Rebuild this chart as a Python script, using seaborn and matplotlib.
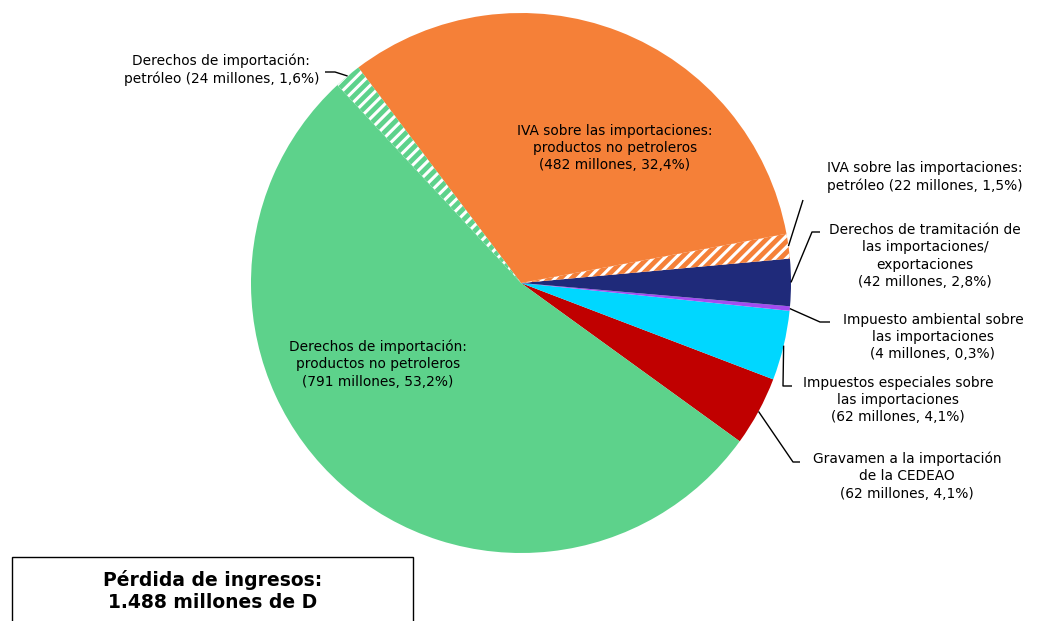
import numpy as np
import matplotlib
matplotlib.use("Agg")
import matplotlib.pyplot as plt
from matplotlib.patches import Rectangle
import seaborn as sns

# data (counter-clockwise from the red slice)
labels = [
    "Gravamen a la importación\nde la CEDEAO\n(62 millones, 4,1%)",
    "Impuestos especiales sobre\nlas importaciones\n(62 millones, 4,1%)",
    "Impuesto ambiental sobre\nlas importaciones\n(4 millones, 0,3%)",
    "Derechos de tramitación de\nlas importaciones/\nexportaciones\n(42 millones, 2,8%)",
    "IVA sobre las importaciones:\npetróleo (22 millones, 1,5%)",
    "IVA sobre las importaciones:\nproductos no petroleros\n(482 millones, 32,4%)",
    "Derechos de importación:\npetróleo (24 millones, 1,6%)",
    "Derechos de importación:\nproductos no petroleros\n(791 millones, 53,2%)",
]
values = [62, 62, 4, 42, 22, 482, 24, 791]
colors = ["#C00000", "#00D7FF", "#A24CF0", "#1F2A7A",
          "#F58038", "#F58038", "#5DD28B", "#5DD28B"]
hatches = [None, None, None, None, "///", None, "///", None]
total_text = "Pérdida de ingresos:\n1.488 millones de D"

W, H = 1040, 621
sns.set_theme(style="white")
plt.rcParams["font.family"] = ["DejaVu Sans"]
plt.rcParams["hatch.linewidth"] = 2.2

fig = plt.figure(figsize=(W / 100, H / 100), dpi=100)
ax = fig.add_axes([0, 0, 1, 1])

def py(y):
    return H - y

cx, cy, r = 521, py(283), 270
start = -35.9
wedges, _ = ax.pie(values, colors=colors, startangle=start, counterclock=True,
                   center=(cx, cy), radius=r, frame=True,
                   wedgeprops=dict(linewidth=0))
ax.set_xlim(0, W)
ax.set_ylim(0, H)
ax.axis("off")
for w, h, c in zip(wedges, hatches, colors):
    if h:
        w.set_hatch(h)
        w.set_facecolor(c)
        w.set_edgecolor("white")
        w.set_linewidth(0)

fs = 9.9
ls = 1.3

def edge_point(i):
    w = wedges[i]
    a = np.deg2rad((w.theta1 + w.theta2) / 2)
    return cx + r * np.cos(a), cy + r * np.sin(a)

# inside labels
ax.text(615, py(148), labels[5], ha="center", va="center", fontsize=fs,
        linespacing=ls, color="black")
ax.text(378, py(364), labels[7], ha="center", va="center", fontsize=fs,
        linespacing=ls, color="black")

# outside labels: (index, text x, text y, elbow points in px, ha)
outside = [
    (0, 907, 476, [(793, 462), (800, 462)], "center"),
    (1, 898, 400, [(783, 386), (792, 386)], "center"),
    (2, 933, 337, [(820, 322), (830, 322)], "center"),
    (3, 925, 256, [(812, 232), (820, 232)], "center"),
    (4, 925, 177, [(803, 200)], "center"),
    (6, 319, 70, [(335, 72), (325, 72)], "right"),
]
for i, tx, ty, pts, ha in outside:
    ex, ey = edge_point(i)
    xs = [ex] + [p[0] for p in pts]
    ys = [ey] + [py(p[1]) for p in pts]
    ax.plot(xs, ys, color="black", lw=1.0, solid_capstyle="butt")
    ax.text(tx, py(ty), labels[i], ha=ha, va="center", fontsize=fs,
            linespacing=ls, color="black", multialignment="center")

# total box
ax.add_patch(Rectangle((12, py(660)), 401, 103, facecolor="white",
                       edgecolor="black", lw=1.0))
ax.text(213, py(591), total_text, ha="center", va="center", fontsize=13.5,
        fontweight="bold", linespacing=1.15, color="black")

fig.savefig("out.png", dpi=100)
